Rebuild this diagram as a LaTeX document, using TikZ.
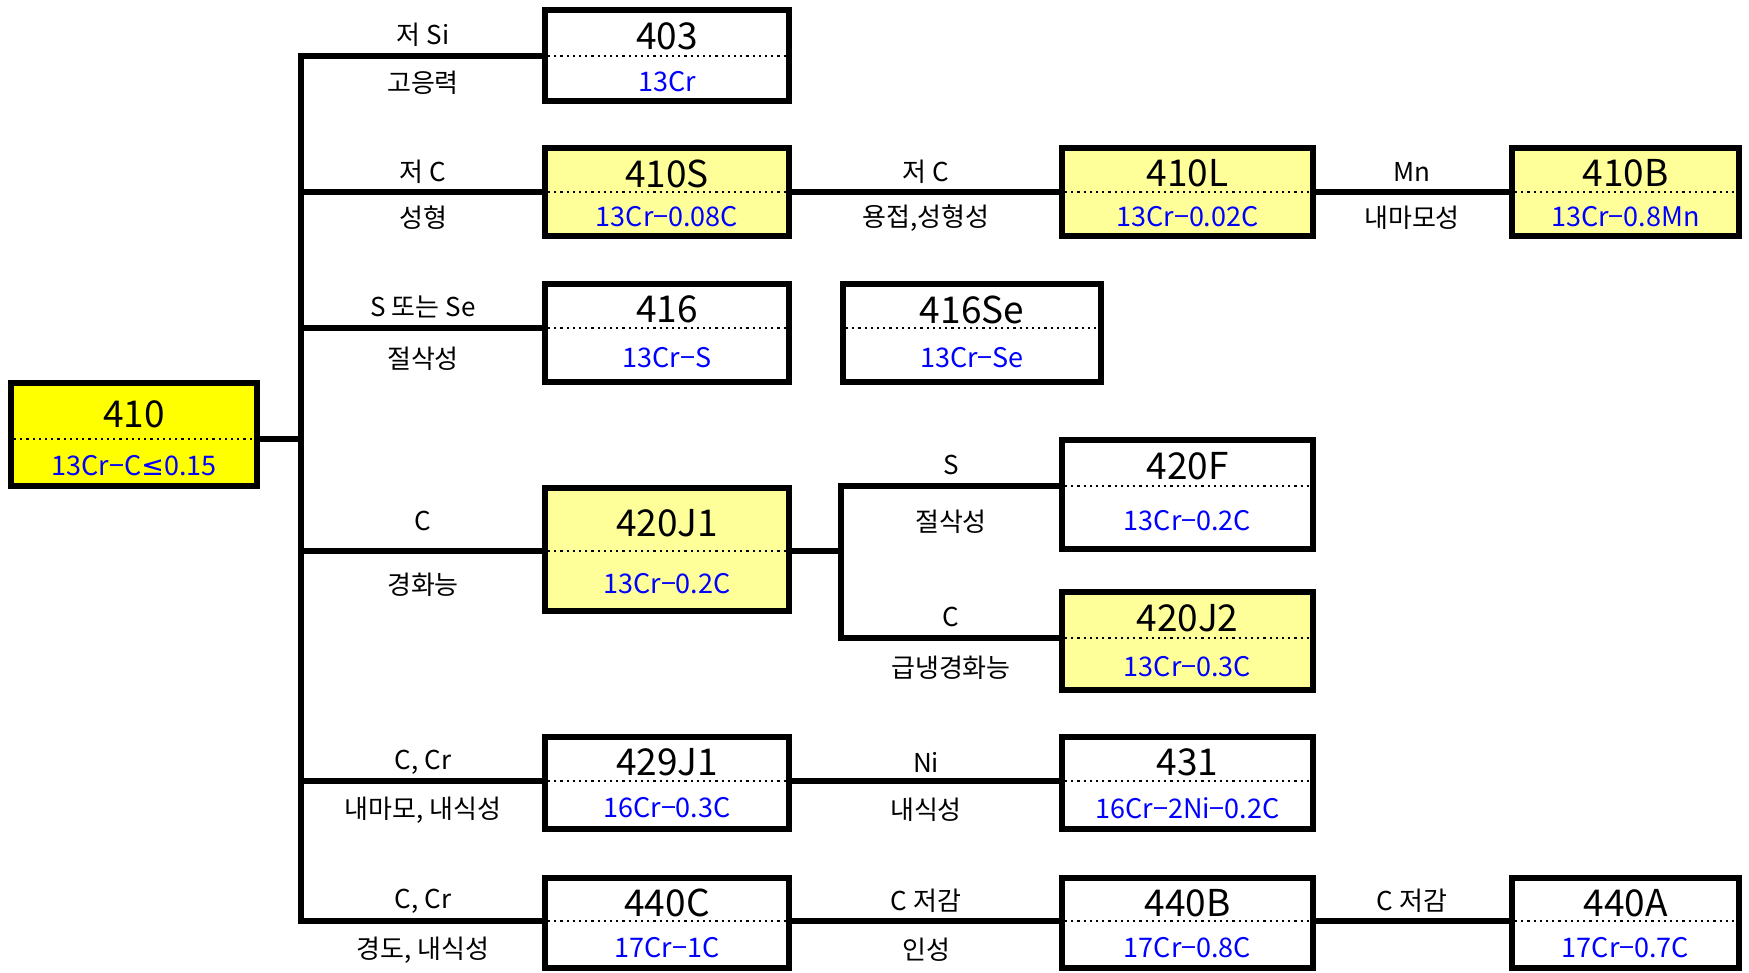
\documentclass[tikz,border=0pt]{standalone}
\usepackage{fontspec}
\setmainfont{Noto Sans CJK KR}
\newfontfamily\symf{DejaVu Sans}
\definecolor{lyel}{HTML}{FFFF99}
\definecolor{fyel}{HTML}{FFFF00}
\newcommand\mkbox[9]{%
  \node[boxshape, fill=#9, minimum width={(#4-#2)*0.5pt}, minimum height={(#5-#3)*0.5pt}] (#1) at ({(#2+#4)/2},{(#3+#5)/2}) {};
  \coordinate (#1-l) at (#2,#6);
  \coordinate (#1-r) at (#4,#6);
  \draw[divline] ([xshift=1.5pt]#1-l) -- ([xshift=-1.5pt]#1-r);
  \node[ttl] (#1-t) at ({(#2+#4)/2},{(#3+#6)/2+3.5}) {#7};
  \node[subt] (#1-s) at ({(#2+#4)/2},{(#6+#5)/2+3}) {#8};
}
\begin{document}
\begin{tikzpicture}[x=0.5pt,y=-0.5pt,
  boxshape/.style={draw, line width=3pt, rectangle, inner sep=0pt, outer sep=0pt},
  conn/.style={line width=2.8pt, line cap=rect},
  divline/.style={line width=1.1pt, dotted},
  ttl/.style={font=\fontsize{18.5}{20}\selectfont, text=black, inner sep=0pt},
  subt/.style={font=\fontsize{13.5}{15}\selectfont, text=blue, inner sep=0pt},
  lab/.style={font=\fontsize{13}{15}\selectfont, inner sep=0pt},
]
\useasboundingbox (0,0) rectangle (1749,973);
\coordinate (tr) at (301,0);
\coordinate (br) at (841,0);
% boxes
\mkbox{n410}{11}{383}{257}{486}{439}{410}{13Cr−C{\symf ≤}0.15}{fyel}
\mkbox{n403}{545}{10}{789}{101}{56}{403}{13Cr}{white}
\mkbox{n410S}{545}{148}{789}{236}{192}{410S}{13Cr−0.08C}{lyel}
\mkbox{n410L}{1062}{148}{1313}{236}{192}{410L}{13Cr−0.02C}{lyel}
\mkbox{n410B}{1512}{148}{1739}{236}{192}{410B}{13Cr−0.8Mn}{lyel}
\mkbox{n416}{545}{284}{789}{382}{328}{416}{13Cr−S}{white}
\mkbox{n416Se}{843}{284}{1101}{382}{328}{416Se}{13Cr−Se}{white}
\mkbox{n420J1}{545}{488}{789}{611}{551}{420J1}{13Cr−0.2C}{lyel}
\mkbox{n420F}{1062}{440}{1313}{549}{486}{420F}{13Cr−0.2C}{white}
\mkbox{n420J2}{1062}{592}{1313}{690}{638}{420J2}{13Cr−0.3C}{lyel}
\mkbox{n429J1}{545}{737}{789}{829}{781}{429J1}{16Cr−0.3C}{white}
\mkbox{n431}{1062}{737}{1313}{829}{781}{431}{16Cr−2Ni−0.2C}{white}
\mkbox{n440C}{545}{878}{789}{968}{921}{440C}{17Cr−1C}{white}
\mkbox{n440B}{1062}{878}{1313}{968}{921}{440B}{17Cr−0.8C}{white}
\mkbox{n440A}{1512}{878}{1739}{968}{921}{440A}{17Cr−0.7C}{white}
% connectors
\draw[conn] (n410-r) -- (n410-r -| tr);
\draw[conn] (n403-l -| tr) -- (n440C-l -| tr);
\foreach \b in {n403,n410S,n416,n420J1,n429J1,n440C}{
  \draw[conn] (\b-l -| tr) -- (\b-l);
}
\draw[conn] (n410S-r) -- (n410L-l);
\draw[conn] (n410L-r) -- (n410B-l);
\draw[conn] (n420J1-r) -- (n420J1-r -| br);
\draw[conn] (n420F-l -| br) -- (n420J2-l -| br);
\draw[conn] (n420F-l -| br) -- (n420F-l);
\draw[conn] (n420J2-l -| br) -- (n420J2-l);
\draw[conn] (n429J1-r) -- (n431-l);
\draw[conn] (n440C-r) -- (n440B-l);
\draw[conn] (n440B-r) -- (n440A-l);
% labels
\node[lab] (l1a) at (423,35) {저 Si};
\node[lab] (l1b) at (423,83) {고응력};
\node[lab] (l2a) at (423,172) {저 C};
\node[lab] (l2b) at (423,218) {성형};
\node[lab] (l3a) at (423,307) {S 또는 Se};
\node[lab] (l3b) at (423,359) {절삭성};
\node[lab] (l4a) at (423,521) {C};
\node[lab] (l4b) at (423,585) {경화능};
\node[lab] (l5a) at (423,762) {C, Cr};
\node[lab] (l5b) at (423,810) {내마모, 내식성};
\node[lab] (l6a) at (423,901) {C, Cr};
\node[lab] (l6b) at (423,950) {경도, 내식성};
\node[lab] (m1a) at (926,172) {저 C};
\node[lab] (m1b) at (926,218) {용접,성형성};
\node[lab] (r1a) at (1412,172) {Mn};
\node[lab] (r1b) at (1412,218) {내마모성};
\node[lab] (m2a) at (951,465) {S};
\node[lab] (m2b) at (951,522) {절삭성};
\node[lab] (m3a) at (951,617) {C};
\node[lab] (m3b) at (951,668) {급냉경화능};
\node[lab] (m4a) at (926,762) {Ni};
\node[lab] (m4b) at (926,810) {내식성};
\node[lab] (m5a) at (926,901) {C 저감};
\node[lab] (m5b) at (926,950) {인성};
\node[lab] (r5a) at (1412,901) {C 저감};
\end{tikzpicture}
\end{document}
